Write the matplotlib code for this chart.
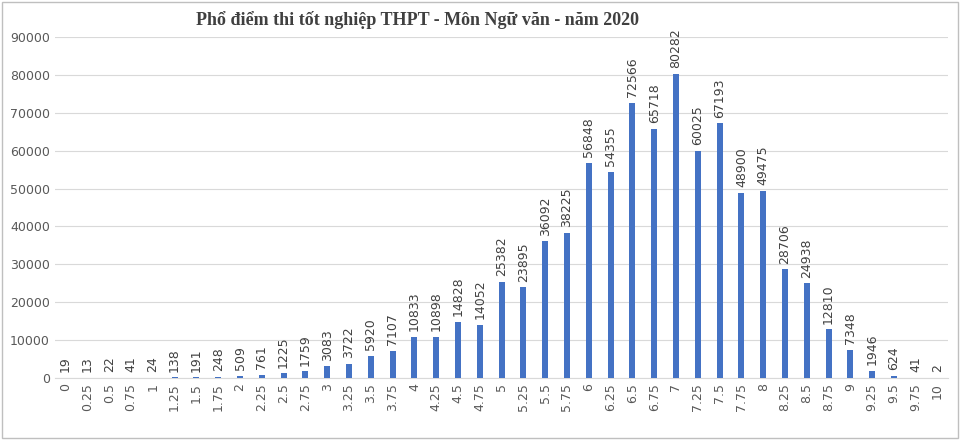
import matplotlib.pyplot as plt
import numpy as np

scores = ["0", "0.25", "0.5", "0.75", "1", "1.25", "1.5", "1.75", "2", "2.25",
          "2.5", "2.75", "3", "3.25", "3.5", "3.75", "4", "4.25", "4.5", "4.75",
          "5", "5.25", "5.5", "5.75", "6", "6.25", "6.5", "6.75", "7", "7.25",
          "7.5", "7.75", "8", "8.25", "8.5", "8.75", "9", "9.25", "9.5", "9.75", "10"]
counts = [19, 13, 22, 41, 24, 138, 191, 248, 509, 761,
          1225, 1759, 3083, 3722, 5920, 7107, 10833, 10898, 14828, 14052,
          25382, 23895, 36092, 38225, 56848, 54355, 72566, 65718, 80282, 60025,
          67193, 48900, 49475, 28706, 24938, 12810, 7348, 1946, 624, 41, 2]

fig = plt.figure(figsize=(9.6, 4.4), dpi=100)
ax = fig.add_axes([0.057, 0.141, 0.931, 0.775])
x = np.arange(len(scores))
ax.bar(x, counts, width=0.28, color="#4472C4", zorder=3)
for xi, c in zip(x, counts):
    ax.text(xi, c + 1500, str(c), rotation=90, ha="center", va="bottom",
            fontsize=9, color="#404040")
ax.set_xlim(-0.5, len(scores) - 0.5)
ax.set_ylim(0, 90000)
ax.set_yticks(range(0, 90001, 10000))
ax.tick_params(axis="y", labelsize=9, colors="#595959", length=0)
ax.set_xticks(x)
ax.set_xticklabels(scores, rotation=90, fontsize=9, color="#595959")
ax.tick_params(axis="x", length=0)
ax.grid(axis="y", color="#D9D9D9", linewidth=0.8, zorder=0)
for s in ["top", "right", "left"]:
    ax.spines[s].set_visible(False)
ax.spines["bottom"].set_color("#D9D9D9")
fig.text(0.435, 0.955, "Phổ điểm thi tốt nghiệp THPT - Môn Ngữ văn - năm 2020",
         ha="center", va="center", fontsize=13, fontweight="bold",
         family="Liberation Serif", color="#404040")
fig.patches.append(plt.Rectangle((0.002, 0.005), 0.996, 0.99, transform=fig.transFigure,
                                 fill=False, edgecolor="#BFBFBF", linewidth=1))
plt.savefig("out.png", dpi=100)
plt.close()
